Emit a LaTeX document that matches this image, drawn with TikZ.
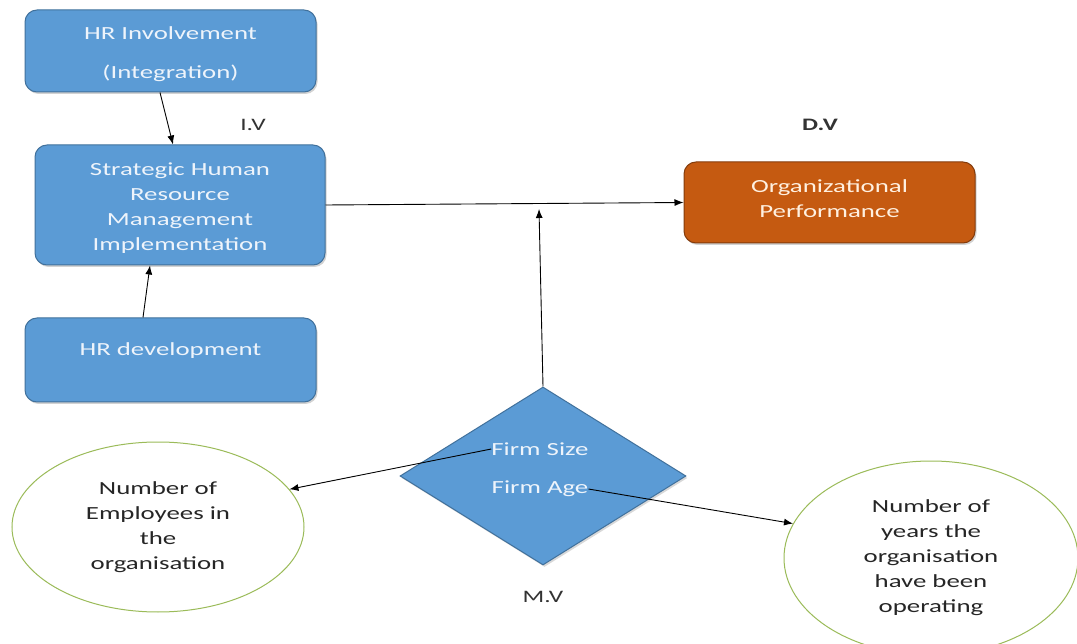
\documentclass[tikz,border=0pt]{standalone}
\usepackage{fontspec}
\setmainfont{Carlito}[FakeStretch=1.45]
\usetikzlibrary{shapes.geometric,arrows.meta,shadows}
\definecolor{boxblue}{HTML}{5B9BD5}
\definecolor{boxedge}{HTML}{41719C}
\definecolor{boxtext}{HTML}{EEF4FB}
\definecolor{boxorange}{HTML}{C55A11}
\definecolor{orangeedge}{HTML}{843C0C}
\definecolor{ellgreen}{HTML}{9BBB59}
\begin{document}
\begin{tikzpicture}[x=1pt,y=-1pt,
  font=\fontsize{18.5}{25}\selectfont,
  bluebox/.style={draw=boxedge,line width=1pt,fill=boxblue,rounded corners=12pt,
    inner sep=0pt,drop shadow={shadow xshift=1.5pt,shadow yshift=-2pt,opacity=0.35}},
  orangebox/.style={draw=orangeedge,line width=1pt,fill=boxorange,rounded corners=12pt,
    inner sep=0pt,drop shadow={shadow xshift=1.5pt,shadow yshift=-2pt,opacity=0.35}},
  btext/.style={text=boxtext,align=center,inner sep=0pt},
  otext/.style={text=white!88!orange,align=center,inner sep=0pt},
  ell/.style={draw=ellgreen,line width=1pt,ellipse,fill=white,align=center,inner sep=0pt,text=black!85},
  conn/.style={draw=black,line width=0.9pt,-{Latex[length=9pt,width=7pt]}},
  lbl/.style={text=black!80,font=\fontsize{17.5}{20}\selectfont}
]
\useasboundingbox (0,0) rectangle (1077,644);
\fill[white] (0,0) rectangle (1077,644);

\node[bluebox,minimum width=291pt,minimum height=82pt] (inv) at (170.5,51) {};
\node[btext] (invt) at (170.5,54) {HR Involvement\\[14pt](Integration)};
\node[bluebox,minimum width=290pt,minimum height=120pt] (shrm) at (180,205) {};
\node[btext] (shrmt) at (180,208) {Strategic Human\\Resource\\Management\\Implementation};
\node[bluebox,minimum width=291pt,minimum height=84pt] (dev) at (170.5,360) {};
\node[btext] (devt) at (170.5,351) {HR development};

\node[orangebox,minimum width=291pt,minimum height=81pt] (op) at (829.5,202.5) {};
\node[otext] (opt) at (829.5,198.5) {Organizational\\Performance};

\node[lbl] (iv) at (253,125) {I.V};
\node[lbl,font=\fontsize{17.5}{20}\selectfont\bfseries] (dv) at (820,125) {D.V};
\node[lbl] (mv) at (543,597) {M.V};

\node[draw=boxedge,line width=1pt,fill=boxblue,diamond,minimum width=286pt,minimum height=178pt,
  inner sep=0pt,drop shadow={shadow xshift=1.5pt,shadow yshift=-2pt,opacity=0.3}] (dia) at (543,476) {};
\node[btext] (fs) at (540,449) {Firm Size};
\node[btext] (fa) at (540,489) {Firm Age};

\node[ell,minimum width=292pt,minimum height=170pt] (emp) at (158,527)
  {Number of\\Employees in\\the\\organisation};
\node[ell,minimum width=294pt,minimum height=194pt] (yrs) at (931,558)
  {Number of\\years the\\organisation\\have been\\operating};

\coordinate (mid) at (539,209);
\draw[conn] (inv.south -| 160,0) -- ([xshift=-7pt]shrm.north);
\draw[conn] (dev.north -| 143,0) -- ([xshift=-30pt]shrm.south);
\draw[conn] (shrm.east) -- (op.west);
\draw[conn] (dia.north) -- (mid);
\draw[conn] (fs.west) -- (emp.16);
\draw[conn] (fa.east) -- (yrs.166);
\end{tikzpicture}
\end{document}
